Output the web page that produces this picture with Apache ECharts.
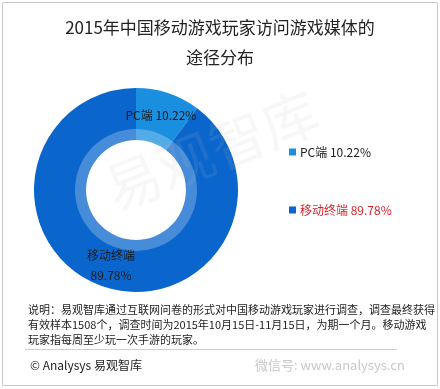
<!DOCTYPE html>
<html>
<head>
<meta charset="utf-8">
<script src="https://cdn.jsdelivr.net/npm/echarts@6/dist/echarts.min.js"></script>
<style>html,body{margin:0;padding:0;background:#fff;}#c{width:440px;height:389px;}</style>
</head>
<body>
<div id="c"></div>
<script>
var categories = ['PC端', '移动终端'];
var values = [10.22, 89.78];
var colors = ['#1a8fe0', '#0a66cc'];
var titleLines = ['2015年中国移动游戏玩家访问游戏媒体的', '途径分布'];
var noteLines = [
  '说明：易观智库通过互联网问卷的形式对中国移动游戏玩家进行调查，调查最终获得',
  '有效样本1508个，调查时间为2015年10月15日-11月15日，为期一个月。移动游戏',
  '玩家指每周至少玩一次手游的玩家。'
];
var FONT = '"Noto Sans CJK SC", "Noto Sans", sans-serif';

var chart = echarts.init(document.getElementById('c'), null, {renderer: 'canvas'});
var pieData = categories.map(function (c, i) {
  return {name: c, value: values[i], itemStyle: {color: colors[i]}};
});
chart.setOption({
  backgroundColor: '#fff',
  animation: false,
  textStyle: {fontFamily: FONT},
  title: {
    text: titleLines.join('\n'),
    left: 'center',
    top: 8,
    textStyle: {fontFamily: FONT, fontSize: 17, fontWeight: 'normal', color: '#222', lineHeight: 30}
  },
  legend: {
    orient: 'vertical',
    left: 284,
    top: 141,
    itemGap: 46,
    itemWidth: 7,
    itemHeight: 7,
    icon: 'rect',
    data: [
      {name: categories[0], textStyle: {color: '#222'}},
      {name: categories[1], textStyle: {color: '#d9232a'}}
    ],
    formatter: function (name) {
      return name + ' ' + values[categories.indexOf(name)].toFixed(2) + '%';
    },
    textStyle: {fontFamily: FONT, fontSize: 12, padding: [0, 0, 0, -1]}
  },
  graphic: [
    {type: 'rect', silent: true, z: -10, shape: {x: 2.5, y: 2.5, width: 435, height: 383},
      style: {fill: 'none', stroke: '#c8c8c8', lineWidth: 1}},
    {type: 'text', silent: true, z: 100, x: 118, y: 218, rotation: 0.38,
      style: {text: '易观智库', fill: 'rgba(190,190,190,0.12)', font: '56px ' + FONT, textVerticalAlign: 'bottom'}},
    {type: 'text', silent: true, left: 28, top: 302,
      style: {text: noteLines.join('\n'), fill: '#222', font: '11px ' + FONT, lineHeight: 15}},
    {type: 'line', silent: true, shape: {x1: 25, y1: 349.5, x2: 397, y2: 349.5},
      style: {stroke: '#cfcfcf', lineWidth: 1}},
    {type: 'text', silent: true, left: 30, top: 359,
      style: {text: '© Analysys 易观智库', fill: '#222', font: '12px ' + FONT}},
    {type: 'text', silent: true, left: 255, top: 359,
      style: {text: '微信号: www.analysys.cn', fill: '#c8c8c8', font: '13px ' + FONT}}
  ],
  series: [
    {
      type: 'pie',
      center: [136, 190],
      radius: [50, 102],
      startAngle: 90,
      clockwise: true,
      silent: true,
      data: pieData,
      label: {
        show: true,
        position: 'inside',
        fontFamily: FONT,
        fontSize: 12,
        color: '#1a1a1a',
        lineHeight: 20,
        formatter: function (p) {
          return p.dataIndex === 0 ? p.name + ' ' + p.value.toFixed(2) + '%' : p.name + '\n' + p.value.toFixed(2) + '%';
        }
      },
      labelLine: {show: false},
      z: 2
    },
    {
      type: 'pie',
      center: [136, 190],
      radius: [50, 61],
      silent: true,
      legendHoverLink: false,
      data: [{name: 'ring', value: 1, itemStyle: {color: 'rgba(255,255,255,0.25)'}}],
      label: {show: false},
      labelLine: {show: false},
      z: 3
    }
  ]
});
</script>
</body>
</html>
